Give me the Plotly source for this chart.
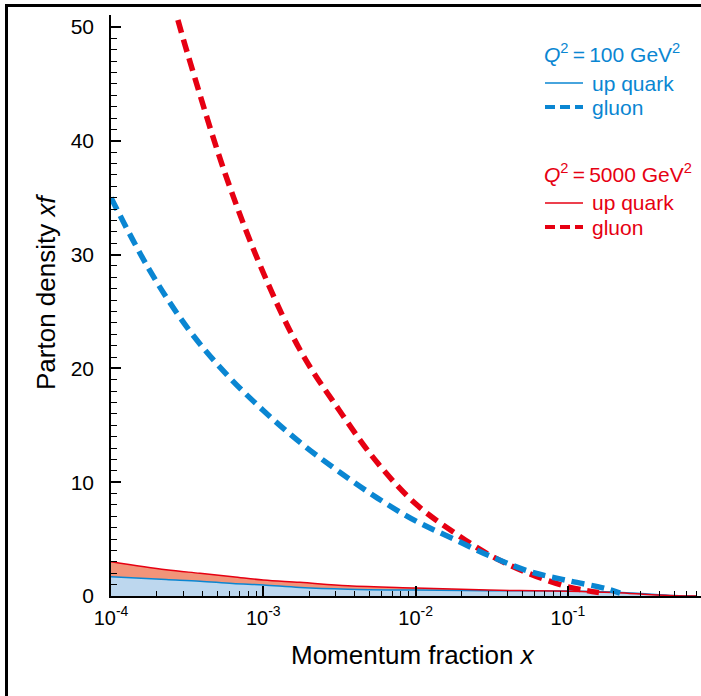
import plotly.graph_objects as go

# ---------------- data ----------------
x_gluon_100 = [1e-4, 1.78e-4, 3.16e-4, 5.62e-4, 1e-3, 1.78e-3, 3.16e-3, 5.62e-3,
               1e-2, 1.78e-2, 3.16e-2, 5.62e-2, 0.1, 0.178, 0.22]
y_gluon_100 = [35.0, 28.7, 23.6, 19.6, 16.3, 13.4, 10.9, 8.6,
               6.6, 5.0, 3.45, 2.15, 1.35, 0.65, 0.25]

x_gluon_5000 = [2.75e-4, 3.16e-4, 5.62e-4, 1e-3, 1.78e-3, 3.16e-3, 5.62e-3,
                1e-2, 1.78e-2, 3.16e-2, 5.62e-2, 0.1, 0.13, 0.16]
y_gluon_5000 = [50.6, 47.8, 37.1, 28.4, 21.4, 16.3, 11.7,
                8.1, 5.6, 3.5, 1.95, 0.8, 0.5, 0.3]

x_quark = [1e-4, 2.3e-4, 3.84e-4, 6.3e-4, 1e-3, 1.74e-3, 3.6e-3, 1e-2, 3e-2, 0.1, 0.2, 0.3, 0.5, 0.7]
y_quark_100 = [1.7, 1.45, 1.3, 1.1, 0.97, 0.75, 0.6, 0.52, 0.46, 0.45, 0.36, 0.22, 0.04, 0.0]
y_quark_5000 = [3.0, 2.3, 2.0, 1.7, 1.4, 1.2, 0.9, 0.7, 0.52, 0.42, 0.3, 0.17, 0.03, 0.0]

x_major_ticks = [1e-4, 1e-3, 1e-2, 1e-1]
x_major_labels = ["10<sup>-4</sup>", "10<sup>-3</sup>", "10<sup>-2</sup>", "10<sup>-1</sup>"]
x_minor_ticks = [m * 10 ** e for e in range(-4, 0) for m in range(2, 10)]

legend_blue_title = "<i>Q</i><sup>2</sup>\u2009=\u2009100 GeV<sup>2</sup>"
legend_red_title = "<i>Q</i><sup>2</sup>\u2009=\u20095000 GeV<sup>2</sup>"
legend_quark = "up quark"
legend_gluon = "gluon"

# ---------------- styling ----------------
BLUE = "#0a86d2"
RED = "#e60012"
BLUE_FILL = "#bdd7ee"
RED_FILL = "#f29479"
FONT = "Liberation Sans, Arial, sans-serif"

W, H = 701, 696
ML, MR, MT, MB = 111, 0, 15, 100
PW, PH = W - ML - MR, H - MT - MB


def fx(px):
    return (px - ML) / PW


def fy(py):
    return (H - MB - py) / PH


fig = go.Figure()

fig.add_trace(go.Scatter(x=x_quark, y=y_quark_100, mode="lines", fill="tozeroy",
                         fillcolor=BLUE_FILL, line=dict(color=BLUE, width=1.5, shape="spline"),
                         showlegend=False, hoverinfo="skip"))
fig.add_trace(go.Scatter(x=x_quark, y=y_quark_5000, mode="lines", fill="tonexty",
                         fillcolor=RED_FILL, line=dict(color=RED, width=1.5, shape="spline"),
                         showlegend=False, hoverinfo="skip"))
fig.add_trace(go.Scatter(x=x_gluon_5000, y=y_gluon_5000, mode="lines",
                         line=dict(color=RED, width=5.5, dash="13px,7px", shape="spline"),
                         showlegend=False, hoverinfo="skip"))
fig.add_trace(go.Scatter(x=x_gluon_100, y=y_gluon_100, mode="lines",
                         line=dict(color=BLUE, width=5.5, dash="13px,7px", shape="spline"),
                         showlegend=False, hoverinfo="skip"))

fig.update_xaxes(type="log", range=[-4, -4 + PW / 152.3],
                 showline=True, linecolor="black", linewidth=1.5,
                 ticks="inside", ticklen=10, tickwidth=1.5, tickcolor="black",
                 tickvals=x_major_ticks, ticktext=x_major_labels,
                 tickfont=dict(family=FONT, size=20, color="black"),
                 minor=dict(tickvals=x_minor_ticks, ticks="inside", ticklen=5,
                            tickwidth=1.2, tickcolor="black", showgrid=False),
                 showgrid=False, zeroline=False, ticklabelstandoff=3)
fig.update_yaxes(range=[0, 51.05], showline=True, linecolor="black", linewidth=1.5,
                 ticks="inside", ticklen=10, tickwidth=1.5, tickcolor="black",
                 dtick=10, tick0=0,
                 tickfont=dict(family=FONT, size=21, color="black"),
                 minor=dict(dtick=1, ticks="inside", ticklen=6, tickwidth=1.2,
                            tickcolor="black", showgrid=False),
                 showgrid=False, zeroline=False, ticklabelstandoff=11)

ann = []
# axis titles
ann.append(dict(x=fx(413), y=fy(655), xref="paper", yref="paper", showarrow=False,
                text="Momentum fraction <i>x</i>", xanchor="center", yanchor="middle",
                font=dict(family=FONT, size=26, color="black")))
ann.append(dict(x=fx(46), y=fy(292), xref="paper", yref="paper", showarrow=False,
                text="Parton density <i>xf</i>", xanchor="center", yanchor="middle",
                textangle=-90, font=dict(family=FONT, size=26, color="black")))
# legend texts
for txt, px, py, col in [
    (legend_blue_title, 542, 53, BLUE),
    (legend_quark, 590, 83, BLUE),
    (legend_gluon, 590, 107, BLUE),
    (legend_red_title, 542, 173, RED),
    (legend_quark, 590, 203, RED),
    (legend_gluon, 590, 227, RED),
]:
    ann.append(dict(x=fx(px), y=fy(py), xref="paper", yref="paper", showarrow=False,
                    text=txt, xanchor="left", yanchor="middle",
                    font=dict(family=FONT, size=21, color=col)))
fig.update_layout(annotations=ann)

shapes = []
# legend samples
for py, col, dash, w in [(83, BLUE, "solid", 1.5), (107, BLUE, "10px,5px", 4),
                         (203, RED, "solid", 1.5), (227, RED, "10px,5px", 4)]:
    shapes.append(dict(type="line", xref="paper", yref="paper",
                       x0=fx(545), x1=fx(583), y0=fy(py), y1=fy(py),
                       line=dict(color=col, width=w, dash=dash)))
# outer frame (top and left edges visible)
shapes.append(dict(type="line", xref="paper", yref="paper",
                   x0=fx(5), x1=fx(720), y0=fy(5.5), y1=fy(5.5),
                   line=dict(color="black", width=3)))
shapes.append(dict(type="line", xref="paper", yref="paper",
                   x0=fx(6.5), x1=fx(6.5), y0=fy(4), y1=fy(720),
                   line=dict(color="black", width=3)))
fig.update_layout(shapes=shapes)

fig.update_layout(width=W, height=H, margin=dict(l=ML, r=MR, t=MT, b=MB, pad=0),
                  paper_bgcolor="white", plot_bgcolor="white",
                  font=dict(family=FONT), showlegend=False)

fig.write_html("out.html")
